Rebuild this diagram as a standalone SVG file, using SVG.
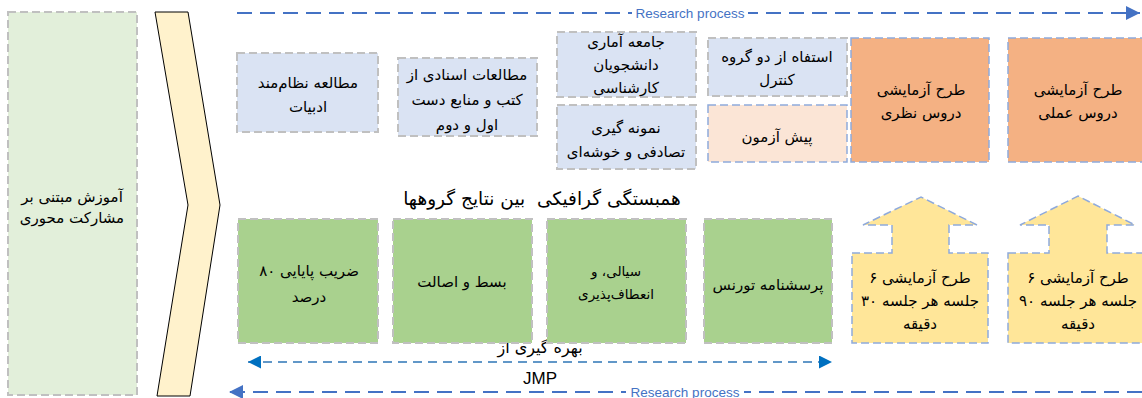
<svg xmlns="http://www.w3.org/2000/svg" width="1142" height="398" viewBox="0 0 1142 398">
<style>
.fa{font-family:"DejaVu Sans","Noto Sans",sans-serif;font-size:15px;fill:#000;text-anchor:middle;direction:rtl}
.en{font-family:"Liberation Sans","DejaVu Sans",sans-serif;text-anchor:middle}
.gray{stroke:#c0c0c0;stroke-width:2;stroke-dasharray:8 4}
.blu{stroke:#8faadc;stroke-width:1.5;stroke-dasharray:8 4}
.lb{fill:#dae3f3}
.gr{fill:#a9d18e}
.or{fill:#f4b183}
.ye{fill:#ffe699}
.proc{stroke:#4472c4;stroke-width:2;stroke-dasharray:15 8;fill:none}
.jmp{stroke:#2e75b6;stroke-width:1.5;stroke-dasharray:9 6;fill:none}
</style>
<defs>
<marker id="ah2" viewBox="0 0 10 10" refX="10" refY="5" markerWidth="17" markerHeight="14" markerUnits="userSpaceOnUse" orient="auto-start-reverse"><path d="M0,0L10,5L0,10z" fill="#4472c4"/></marker>
<marker id="aj" viewBox="0 0 10 10" refX="10" refY="5" markerWidth="18" markerHeight="13" markerUnits="userSpaceOnUse" orient="auto-start-reverse"><path d="M0,0L10,5L0,10z" fill="#0070c0"/></marker>
</defs>

<g id="n-left">
<rect x="8" y="12" width="129" height="383" fill="#e2efda" class="gray"/>
<text class="fa" x="72" y="202">آموزش مبتنی بر</text>
<text class="fa" x="72" y="223">مشارکت محوری</text>
</g>

<g id="n-chevron">
<polygon points="155,12 188,12 220,205 190,396 157,396 188,205" fill="#fff2cc" stroke="#000" stroke-width="1"/>
</g>

<g id="connectors">
<line x1="237" y1="13" x2="1140" y2="13" class="proc" marker-end="url(#ah2)"/>
<line x1="1142" y1="392" x2="229" y2="392" class="proc" marker-end="url(#ah2)"/>
<line x1="248" y1="362" x2="832" y2="362" class="jmp" marker-start="url(#aj)" marker-end="url(#aj)"/>
<rect x="632" y="5" width="116" height="16" fill="#fff"/>
<text class="en" x="690" y="18" font-size="13.5" fill="#4472c4">Research process</text>
<rect x="626" y="384" width="118" height="16" fill="#fff"/>
<text class="en" x="685" y="397" font-size="13.5" fill="#4472c4">Research process</text>
</g>

<g id="n-jmp">
<rect x="498" y="333" width="85" height="25" fill="#fff"/>
<text class="fa" x="540" y="353" style="font-size:16px">بهره گیری از</text>
<text class="en" x="540" y="384" font-size="17">JMP</text>
</g>

<g id="n-b1">
<rect x="237" y="53" width="141" height="79" class="lb gray"/>
<text class="fa" x="308" y="88">مطالعه نظام‌مند</text>
<text class="fa" x="308" y="112">ادبیات</text>
</g>
<g id="n-b2">
<rect x="398" y="58" width="139" height="78" class="lb gray"/>
<text class="fa" x="467" y="80">مطالعات اسنادی از</text>
<text class="fa" x="467" y="105">کتب و منابع دست</text>
<text class="fa" x="467" y="130">اول و دوم</text>
</g>
<g id="n-b3">
<rect x="557" y="32" width="139" height="65" class="lb gray"/>
<text class="fa" x="626" y="47">جامعه آماری</text>
<text class="fa" x="626" y="70">دانشجویان</text>
<text class="fa" x="626" y="93">کارشناسی</text>
</g>
<g id="n-b4">
<rect x="557" y="105" width="139" height="64" class="lb gray"/>
<text class="fa" x="626" y="133">نمونه گیری</text>
<text class="fa" x="626" y="157">تصادفی و خوشه‌ای</text>
</g>
<g id="n-b5">
<rect x="708" y="38" width="139" height="58" class="lb gray"/>
<text class="fa" x="777" y="62">استفاه از دو گروه</text>
<text class="fa" x="777" y="85">کنترل</text>
</g>
<g id="n-b6">
<rect x="708" y="105" width="139" height="57" fill="#fbe5d6" class="blu"/>
<text class="fa" x="777" y="142">پیش آزمون</text>
</g>
<g id="n-b7">
<rect x="851" y="38" width="138" height="124" class="or blu"/>
<text class="fa" x="921" y="95">طرح آزمایشی</text>
<text class="fa" x="921" y="118">دروس نظری</text>
</g>
<g id="n-b8">
<rect x="1008" y="38" width="140" height="124" class="or blu"/>
<text class="fa" x="1078" y="95">طرح آزمایشی</text>
<text class="fa" x="1078" y="118">دروس عملی</text>
</g>

<g id="n-heading">
<text class="fa" x="542" y="205" style="font-size:18.5px;white-space:pre">همبستگی گرافیکی  بین نتایج گروهها</text>
</g>

<g id="n-g1">
<rect x="238" y="219" width="140" height="124" class="gr gray"/>
<text class="fa" x="309" y="276">ضریب پایایی ۸۰</text>
<text class="fa" x="309" y="302">درصد</text>
</g>
<g id="n-g2">
<rect x="393" y="219" width="139" height="124" class="gr gray"/>
<text class="fa" x="462" y="287">بسط و اصالت</text>
</g>
<g id="n-g3">
<rect x="547" y="219" width="139" height="124" class="gr gray"/>
<text class="fa" x="616" y="276" style="font-size:13.5px">سیالی، و</text>
<text class="fa" x="616" y="299" style="font-size:13.5px">انعطاف‌پذیری</text>
</g>
<g id="n-g4">
<rect x="704" y="219" width="128" height="124" class="gr gray"/>
<text class="fa" x="768" y="290">پرسشنامه تورنس</text>
</g>

<g id="n-a1">
<path d="M852,253H892V225H863L921,197L977,225H949V253H988V343H852Z" class="ye blu"/>
<text class="fa" x="920" y="283">طرح آزمایشی ۶</text>
<text class="fa" x="920" y="306">جلسه هر جلسه ۳۰</text>
<text class="fa" x="920" y="329">دقیقه</text>
</g>
<g id="n-a2">
<path d="M1008,253H1049V225H1020L1078,196L1135,225H1107V253H1147V343H1008Z" class="ye blu"/>
<text class="fa" x="1078" y="283">طرح آزمایشی ۶</text>
<text class="fa" x="1078" y="306">جلسه هر جلسه ۹۰</text>
<text class="fa" x="1078" y="329">دقیقه</text>
</g>
</svg>
